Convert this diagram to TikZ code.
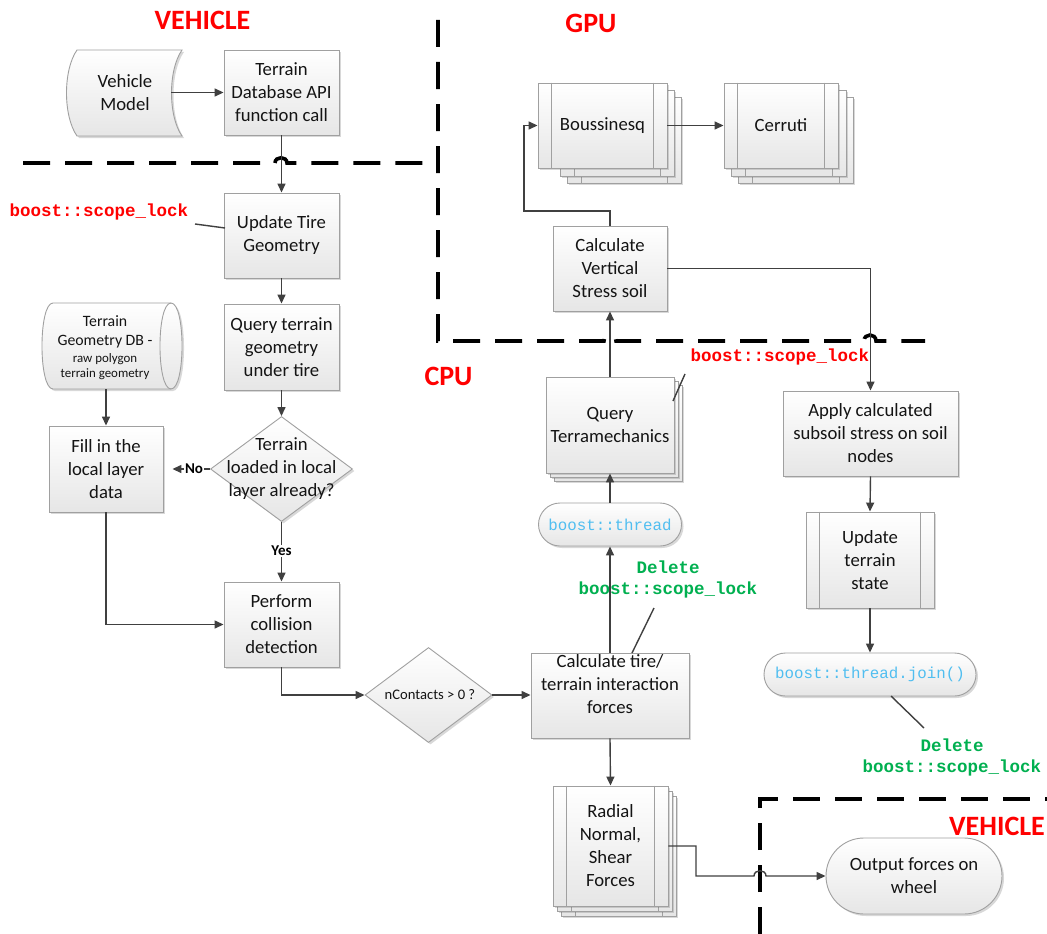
\documentclass[tikz,border=0pt]{standalone}
\usepackage{fontspec}
\setmainfont{Carlito}
\newfontfamily\monofont{Liberation Mono}
\usetikzlibrary{arrows.meta,shapes.geometric,shapes.misc,shadows}
\definecolor{bordc}{RGB}{160,160,160}
\definecolor{botc}{RGB}{230,230,230}
\definecolor{linec}{RGB}{64,64,64}
\definecolor{redc}{RGB}{255,0,0}
\definecolor{greenc}{RGB}{0,176,80}
\definecolor{bluec}{RGB}{80,190,240}
\definecolor{txtc}{RGB}{20,20,20}
\newcommand\boxfont{\fontsize{18.7}{23}\selectfont}
\begin{document}
\begin{tikzpicture}[x=1pt,y=-1pt,
  shd/.style={drop shadow={shadow xshift=2pt,shadow yshift=-2pt,opacity=0.25,fill=black!60}},
  fillst/.style={draw=bordc,line width=0.9pt,top color=white,bottom color=botc},
  box/.style={rectangle,fillst,shd,align=center,inner sep=0pt,font=\boxfont,text=txtc},
  copyst/.style={fillst,shd},
  dia/.style={diamond,fillst,shd,inner sep=0pt},
  pill/.style={rounded rectangle,fillst,shd,align=center,inner sep=0pt,font=\boxfont,text=txtc},
  txt/.style={align=center,inner sep=0pt,font=\boxfont,text=txtc},
  conn/.style={draw=linec,line width=1.4pt},
  arr/.style={conn,-{Triangle[length=9pt,width=8pt]}},
  leadc/.style={draw=linec,line width=1.4pt},
  dsh/.style={draw=black,line width=3.6pt,dash pattern=on 27pt off 15pt},
  region/.style={text=redc,font=\fontsize{28}{30}\selectfont\bfseries,inner sep=0pt,anchor=base},
  redlbl/.style={text=redc,font=\monofont\bfseries\fontsize{17.5}{21}\selectfont,inner sep=0pt},
  greenlbl/.style={text=greenc,font=\monofont\bfseries\fontsize{17.5}{21}\selectfont,inner sep=0pt,align=center},
  decl/.style={font=\bfseries\fontsize{15}{18}\selectfont,fill=white,inner sep=1pt,text=black}
]
\path[fill=white] (0,0) rectangle (1047,934);
\useasboundingbox (0,0) rectangle (1047,934);

% region labels
\node[region] (vehA) at (202.5,29.5) {VEHICLE};
\node[region] (gpu) at (591,33) {GPU};
\node[region] (cpu) at (448.5,385.5) {CPU};
\node[region] (vehB) at (997,835) {VEHICLE};

% dashed borders
\draw[dsh] (23,163) -- (275,163) .. controls (275,156) and (287,156) .. (287,163) -- (431,163);
\draw[dsh] (438,20) -- (438,341) -- (604,341) .. controls (604,333) and (616,333) .. (616,341) -- (864,341) .. controls (864,333) and (876,333) .. (876,341) -- (925,341);
\draw[dsh] (760,934) -- (760,799) -- (1047,799);

% Vehicle model (stored data)
\path[fillst,shd] (77,50) -- (182,50) .. controls (168,70) and (168,116) .. (182,136) -- (77,136) .. controls (63,116) and (63,70) .. (77,50) -- cycle;
\node[txt,minimum width=92pt,minimum height=86pt] (vm) at (125,92.5) {Vehicle\\Model};

\node[box,minimum width=115pt,minimum height=85pt] (tdb) at (281.5,92.5) {Terrain\\Database API\\function call};
\node[box,minimum width=115pt,minimum height=85pt] (utg) at (281.5,235.5) {Update Tire\\Geometry};
\node[box,minimum width=115pt,minimum height=86pt] (qtg) at (281.5,347) {Query terrain\\geometry\\under tire};

% Terrain geometry DB (cylinder)
\path[fillst,shd] (53,303) -- (171,303) .. controls (185.7,303) and (185.7,389) .. (171,389) -- (53,389) .. controls (38.3,389) and (38.3,303) .. (53,303) -- cycle;
\draw[draw=bordc,line width=0.9pt] (171,303) .. controls (156.3,303) and (156.3,389) .. (171,389);
\node[inner sep=0pt,minimum width=139pt,minimum height=86pt] (db) at (106,346) {};
\node[txt,font=\fontsize{15.8}{19}\selectfont] (dbt) at (105,347.5) {Terrain\\Geometry DB -\\[-2pt]{\fontsize{12.9}{15}\selectfont raw polygon}\\[-4pt]{\fontsize{12.9}{15}\selectfont terrain geometry}};

\node[box,minimum width=114pt,minimum height=86pt] (fill) at (106,469) {Fill in the\\local layer\\data};
\node[dia,minimum width=142pt,minimum height=105pt] (dec) at (281.5,469) {};
\node[txt] (dect) at (281.5,469) {Terrain\\loaded in local\\layer already?};
\node[box,minimum width=115pt,minimum height=85pt] (pcd) at (281.5,624.5) {Perform\\collision\\detection};
\node[dia,minimum width=127pt,minimum height=95pt] (nc) at (428.5,695) {};
\node[txt,font=\fontsize{14.6}{17}\selectfont] (nct) at (430,695) {nContacts > 0 ?};

% GPU stacked boxes
\path[copyst] (567,97) rectangle (681,183);
\draw[bordc,line width=0.9pt] (581,97) -- (581,183) (667,97) -- (667,183);
\path[copyst] (560,90) rectangle (674,176);
\draw[bordc,line width=0.9pt] (574,90) -- (574,176) (660,90) -- (660,176);
\node[box,minimum width=129pt,minimum height=85pt] (bous) at (602.5,125.5) {Boussinesq};
\draw[bordc,line width=0.9pt] ([xshift=14pt]bous.north west) -- ([xshift=14pt]bous.south west) ([xshift=-14pt]bous.north east) -- ([xshift=-14pt]bous.south east);

\path[copyst] (738,97) rectangle (853,183);
\draw[bordc,line width=0.9pt] (752,97) -- (752,183) (839,97) -- (839,183);
\path[copyst] (731,90) rectangle (846,176);
\draw[bordc,line width=0.9pt] (745,90) -- (745,176) (832,90) -- (832,176);
\node[box,minimum width=114pt,minimum height=85pt] (cer) at (781,125.5) {Cerruti};
\draw[bordc,line width=0.9pt] ([xshift=14pt]cer.north west) -- ([xshift=14pt]cer.south west) ([xshift=-14pt]cer.north east) -- ([xshift=-14pt]cer.south east);

\node[box,minimum width=114pt,minimum height=85pt] (cvs) at (610,268.5) {Calculate\\Vertical\\Stress soil};

% Query terramechanics (stacked)
\path[copyst] (554,385) rectangle (682,481);
\path[copyst] (550,381) rectangle (678,477);
\node[box,minimum width=128pt,minimum height=96pt] (qtm) at (610,425) {Query\\Terramechanics};

\node[pill,minimum width=143pt,minimum height=43pt] (thr) at (610,524.5) {\textcolor{bluec}{\monofont\fontsize{15.8}{19}\selectfont boost::thread}};
\node[box,minimum width=158pt,minimum height=85pt] (ctf) at (610,695.5) {};
\node[txt] (ctft) at (610,684) {Calculate tire/\\terrain interaction\\forces};

% Radial stacked
\path[copyst] (561,796) rectangle (676,916);
\draw[bordc,line width=0.9pt] (575,796) -- (575,916) (662,796) -- (662,916);
\path[copyst] (557,791) rectangle (672,911);
\draw[bordc,line width=0.9pt] (571,791) -- (571,911) (658,791) -- (658,911);
\node[box,minimum width=115pt,minimum height=120pt] (rad) at (610.5,846) {Radial\\Normal,\\Shear\\Forces};
\draw[bordc,line width=0.9pt] ([xshift=14pt]rad.north west) -- ([xshift=14pt]rad.south west) ([xshift=-14pt]rad.north east) -- ([xshift=-14pt]rad.south east);

\node[box,minimum width=175pt,minimum height=85pt] (apply) at (870.5,433.5) {Apply calculated\\subsoil stress on soil\\nodes};
\node[box,minimum width=128pt,minimum height=96pt] (uts) at (870,560) {Update\\terrain\\state};
\draw[bordc,line width=0.9pt] ([xshift=14pt]uts.north west) -- ([xshift=14pt]uts.south west) ([xshift=-14pt]uts.north east) -- ([xshift=-14pt]uts.south east);
\node[pill,minimum width=212pt,minimum height=43pt] (join) at (870,674.5) {\textcolor{bluec}{\monofont\fontsize{15.8}{19}\selectfont boost::thread.join()}};
\node[pill,minimum width=176pt,minimum height=76pt] (out) at (914,876) {Output forces on\\wheel};

% annotations
\node[redlbl] (lock1) at (99,212) {boost::scope\_lock};
\node[redlbl] (lock2) at (780,357) {boost::scope\_lock};
\node[greenlbl] (del1) at (668,579.5) {Delete\\boost::scope\_lock};
\node[greenlbl] (del2) at (952,757) {Delete\\boost::scope\_lock};
\coordinate (l1a) at (195,224); \coordinate (l1b) at (225,228);
\coordinate (l2a) at (673,401); \coordinate (l2b) at (685,374);
\coordinate (l3a) at (654,608); \coordinate (l3b) at (632,653);
\coordinate (l4a) at (891,696); \coordinate (l4b) at (924,728);
\draw[leadc] (l1a) -- (l1b);
\draw[leadc] (l2a) -- (l2b);
\draw[leadc] (l3a) -- (l3b);
\draw[leadc] (l4a) -- (l4b);

% connectors
\draw[arr] (vm.east) -- (tdb.west);
\draw[arr] (tdb.south) -- (utg.north);
\draw[arr] (utg.south) -- (qtg.north);
\draw[arr] (qtg.south) -- (dec.north);
\draw[arr] (db.south) -- (fill.north);
\draw[arr,shorten >=9pt] (dec.west) -- (fill.east);
\node[decl] (nolbl) at (194,469) {No};
\draw[arr] (dec.south) -- (pcd.north);
\node[decl] (yeslbl) at (281.5,551) {Yes};
\draw[arr] (fill.south) |- (pcd.west);
\draw[arr] (pcd.south) |- (nc.west);
\draw[arr] (nc.east) -- (nc.east -| ctf.west);
\draw[arr] (ctf.north) -- (thr.south);
\draw[arr] (thr.north) -- (qtm.south);
\draw[arr] (qtm.north) -- (cvs.south);
\coordinate (c1) at (524,211);
\draw[arr] (cvs.north) |- (c1) |- (bous.west);
\draw[arr] (bous.east) -- (cer.west);
\draw[arr] (cvs.east) -| (apply.north);
\draw[arr] (apply.south) -- (uts.north);
\draw[arr] (uts.south) -- (join.north);
\draw[arr] (ctf.south) -- (rad.north);
\coordinate (r1) at (696,876);
\draw[arr] (rad.east) -| (r1) -- (754,876) .. controls (754,869) and (766,869) .. (766,876) -- (out.west);
\end{tikzpicture}
\end{document}
